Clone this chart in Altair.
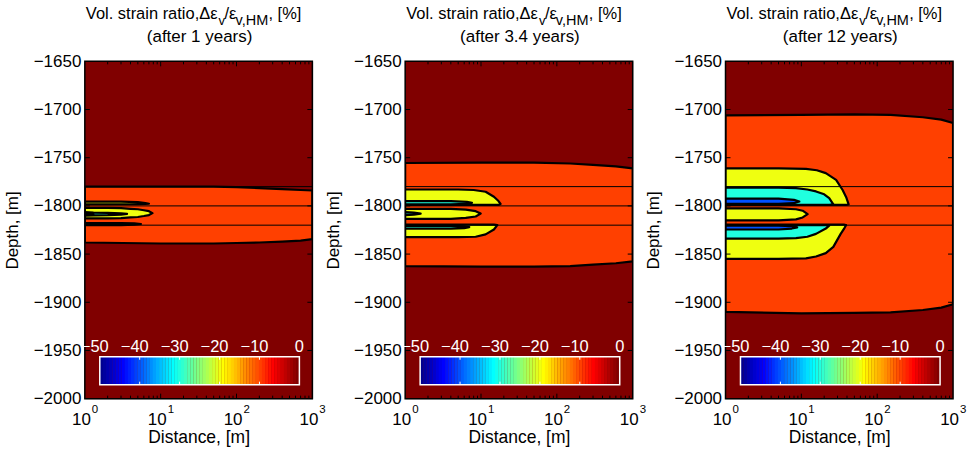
import math
import altair as alt
import numpy as np
import pandas as pd

# ---------------- data ----------------
YEARS = ["1", "3.4", "12"]
DEPTH_TICKS = [-2000, -1950, -1900, -1850, -1800, -1750, -1700, -1650]
X_MAJOR = [1, 10, 100, 1000]
X_EXP = ["0", "1", "2", "3"]
X_MINOR = [2, 3, 4, 5, 6, 7, 8, 9, 20, 30, 40, 50, 60, 70, 80, 90,
           200, 300, 400, 500, 600, 700, 800, 900]
LAYER_LINES = [-1780, -1800, -1820]
CB_TICKS = [-50, -40, -30, -20, -10, 0]
CB_LABELS = ["\u221250", "\u221240", "\u221230", "\u221220", "\u221210", "0"]
LEVELS = [-10, -20, -30, -40]

# panel 1 (after 1 year)
P1_ORANGE_X = [1, 10, 50, 100, 200, 400, 700, 1000]
P1_ORANGE_TOP = [-1780, -1780, -1780, -1780.5, -1781.5, -1782.5, -1783.5, -1784]
P1_ORANGE_BOT = [-1838, -1839, -1839, -1838.5, -1838, -1837, -1836, -1834.5]
P1_YEL_A_X = [1, 3, 5, 6.3, 7.0]
P1_YEL_A_TOP = [-1795.5, -1795.5, -1796, -1797, -1797.8]
P1_YEL_A_BOT = [-1798.3, -1798.3, -1798.3, -1798, -1797.8]
P1_YEL_B_X = [1, 2, 3, 4, 5, 6, 7, 7.8]
P1_YEL_B_TOP = [-1802, -1802, -1802.3, -1803, -1803.5, -1804.5, -1805.5, -1807.5]
P1_YEL_B_BOT = [-1813, -1813, -1812.7, -1812, -1811.5, -1810.5, -1809.5, -1807.5]
P1_YEL_C_X = [1, 3, 4.5, 5.5]
P1_YEL_C_TOP = [-1817.8, -1817.8, -1818.2, -1818.8]
P1_YEL_C_BOT = [-1820, -1820, -1819.5, -1818.8]
P1_CYAN_X = [1, 1.3, 2, 3, 3.6]
P1_CYAN_TOP = [-1806.5, -1807, -1807.3, -1807.8, -1808.3]
P1_CYAN_BOT = [-1810, -1809.8, -1809.6, -1809, -1808.3]
P1_BLUE_X = [1, 1.15, 1.3]
P1_BLUE_TOP = [-1807.5, -1808, -1808.5]
P1_BLUE_BOT = [-1809.5, -1809, -1808.5]

# panel 2 (after 3.4 years)
P2_ORANGE_X = [1, 10, 50, 150, 300, 600, 1000]
P2_ORANGE_TOP = [-1755.5, -1755, -1755, -1756, -1757.5, -1759, -1761]
P2_ORANGE_BOT = [-1862.5, -1863, -1863, -1862.5, -1861, -1859.5, -1857.5]
P2_YEL_A_X = [1, 5, 8, 11.5, 14.8, 17, 18.1]
P2_YEL_A_TOP = [-1783, -1783, -1783.5, -1785.3, -1790.5, -1795, -1798]
P2_YEL_A_BOT = [-1799, -1799, -1799, -1799, -1799, -1799, -1798]
P2_YEL_B_X = [1, 4, 6.3, 8.5, 9.9]
P2_YEL_B_TOP = [-1803, -1803, -1803.8, -1805.5, -1808]
P2_YEL_B_BOT = [-1813.5, -1813.5, -1812.5, -1811, -1808]
P2_YEL_C_X = [1, 5, 8.5, 11.5, 14.8, 16.4]
P2_YEL_C_TOP = [-1819.5, -1819.5, -1819.5, -1819.5, -1819.5, -1820]
P2_YEL_C_BOT = [-1832.5, -1832.5, -1832, -1829.5, -1824.5, -1820]
P2_CYAN_A_X = [1, 4, 6.5, 7.6]
P2_CYAN_A_TOP = [-1795, -1795, -1795.8, -1796.8]
P2_CYAN_A_BOT = [-1798.5, -1798.5, -1797.8, -1796.8]
P2_CYAN_B_X = [1, 1.3, 1.6]
P2_CYAN_B_TOP = [-1806.5, -1807, -1808]
P2_CYAN_B_BOT = [-1809.5, -1809, -1808]
P2_CYAN_C_X = [1, 4, 6, 7]
P2_CYAN_C_TOP = [-1820.8, -1820.8, -1821.2, -1822]
P2_CYAN_C_BOT = [-1823.5, -1823.5, -1823, -1822]

# panel 3 (after 12 years)
P3_ORANGE_X = [1, 10, 50, 150, 400, 700, 1000]
P3_ORANGE_TOP = [-1706, -1705.5, -1705, -1705.5, -1708, -1710.5, -1714]
P3_ORANGE_BOT = [-1910, -1911.5, -1911, -1910.5, -1908, -1905.5, -1902]
P3_YEL_A_X = [1, 5, 11.5, 16, 21, 28.7, 35, 39, 42]
P3_YEL_A_TOP = [-1761, -1761, -1761.5, -1763, -1766, -1773, -1783.5, -1791, -1798.5]
P3_YEL_A_BOT = [-1799, -1799, -1799, -1799, -1799, -1799, -1799, -1799, -1798.5]
P3_YEL_B_X = [1, 5, 8.5, 10.4, 12.1]
P3_YEL_B_TOP = [-1802.5, -1802.5, -1803.5, -1805, -1808.5]
P3_YEL_B_BOT = [-1815, -1815, -1814, -1812, -1808.5]
P3_YEL_C_X = [1, 5, 11.5, 15.6, 21, 26.4, 33, 37, 38.8]
P3_YEL_C_TOP = [-1819.5, -1819.5, -1819.5, -1819.5, -1819.5, -1819.5, -1819.5, -1819.5, -1820]
P3_YEL_C_BOT = [-1855, -1855, -1854.5, -1852.5, -1849, -1842.5, -1829, -1823, -1820]
P3_CYAN_A_X = [1, 5, 8.5, 12, 15.6, 20, 23.3, 26.4]
P3_CYAN_A_TOP = [-1781, -1781, -1781.5, -1783, -1785, -1788, -1792, -1798.5]
P3_CYAN_A_BOT = [-1799, -1799, -1799, -1799, -1799, -1799, -1799, -1798.5]
P3_CYAN_C_X = [1, 5, 8.5, 12, 15.6, 21, 23.3]
P3_CYAN_C_TOP = [-1820, -1820, -1820, -1820, -1820, -1820, -1820.5]
P3_CYAN_C_BOT = [-1834, -1834, -1833.5, -1832, -1829, -1823.5, -1820.5]
P3_BLUE_A_X = [1, 5, 8, 9.4]
P3_BLUE_A_TOP = [-1792.3, -1792.5, -1793.8, -1795.5]
P3_BLUE_A_BOT = [-1797.8, -1797.8, -1797.2, -1795.5]
P3_BLUE_C_X = [1, 5, 7.5, 8.8]
P3_BLUE_C_TOP = [-1820.5, -1820.5, -1821, -1822.3]
P3_BLUE_C_BOT = [-1824.5, -1824.5, -1823.5, -1822.3]

PANELS = [
    [(-10, P1_ORANGE_X, P1_ORANGE_TOP, P1_ORANGE_BOT),
     (-20, P1_YEL_A_X, P1_YEL_A_TOP, P1_YEL_A_BOT),
     (-20, P1_YEL_B_X, P1_YEL_B_TOP, P1_YEL_B_BOT),
     (-20, P1_YEL_C_X, P1_YEL_C_TOP, P1_YEL_C_BOT),
     (-30, P1_CYAN_X, P1_CYAN_TOP, P1_CYAN_BOT),
     (-40, P1_BLUE_X, P1_BLUE_TOP, P1_BLUE_BOT)],
    [(-10, P2_ORANGE_X, P2_ORANGE_TOP, P2_ORANGE_BOT),
     (-20, P2_YEL_A_X, P2_YEL_A_TOP, P2_YEL_A_BOT),
     (-20, P2_YEL_B_X, P2_YEL_B_TOP, P2_YEL_B_BOT),
     (-20, P2_YEL_C_X, P2_YEL_C_TOP, P2_YEL_C_BOT),
     (-30, P2_CYAN_A_X, P2_CYAN_A_TOP, P2_CYAN_A_BOT),
     (-30, P2_CYAN_B_X, P2_CYAN_B_TOP, P2_CYAN_B_BOT),
     (-30, P2_CYAN_C_X, P2_CYAN_C_TOP, P2_CYAN_C_BOT)],
    [(-10, P3_ORANGE_X, P3_ORANGE_TOP, P3_ORANGE_BOT),
     (-20, P3_YEL_A_X, P3_YEL_A_TOP, P3_YEL_A_BOT),
     (-20, P3_YEL_B_X, P3_YEL_B_TOP, P3_YEL_B_BOT),
     (-20, P3_YEL_C_X, P3_YEL_C_TOP, P3_YEL_C_BOT),
     (-30, P3_CYAN_A_X, P3_CYAN_A_TOP, P3_CYAN_A_BOT),
     (-30, P3_CYAN_C_X, P3_CYAN_C_TOP, P3_CYAN_C_BOT),
     (-40, P3_BLUE_A_X, P3_BLUE_A_TOP, P3_BLUE_A_BOT),
     (-40, P3_BLUE_C_X, P3_BLUE_C_TOP, P3_BLUE_C_BOT)],
]


# ---------------- colormap (MATLAB jet(64)) ----------------
def jet(m=64):
    n = math.ceil(m / 4)
    u = np.concatenate([np.arange(1, n + 1) / n, np.ones(n - 1), np.arange(n, 0, -1) / n])
    g = math.ceil(n / 2) - (1 if m % 4 == 1 else 0) + np.arange(1, len(u) + 1)
    r = g + n
    b = g - n
    J = np.zeros((m, 3))
    J[r[r <= m] - 1, 0] = u[r <= m]
    J[g[g <= m] - 1, 1] = u[g <= m]
    J[b[b >= 1] - 1, 2] = u[b >= 1]
    return J


JET = jet(64)


def hexc(c):
    return "#%02x%02x%02x" % tuple(int(round(v * 255)) for v in c)


def level_color(v, vmin=-50.0, vmax=0.0):
    idx = int((v - vmin) / (vmax - vmin) * 64)
    idx = max(0, min(63, idx))
    return hexc(JET[idx])


LEVEL_COLOR = {lv: level_color(lv) for lv in LEVELS}
BG_COLOR = level_color(0)

# ---------------- layout ----------------
W, H = 228, 338
FONT = "Liberation Sans"
CB_L, CB_R, CB_T, CB_B = 15, 215, 296, 324

xs = alt.Scale(type="log", domain=[1, 1000], nice=False)
ys = alt.Scale(domain=[-2000, -1650], nice=False, zero=False)
X_AXIS = alt.Axis(labels=False, ticks=False, domain=False, grid=False,
                  title="Distance, [m]", titleFontSize=17.5, titleFontWeight="normal",
                  titleColor="black", titleY=44, titleBaseline="alphabetic", titleFont=FONT)
Y_AXIS = alt.Axis(values=DEPTH_TICKS, format="d", ticks=False, domain=False, grid=False,
                  labelFontSize=17, labelColor="black", labelPadding=4, labelFont=FONT,
                  title="Depth, [m]", titleFontSize=17, titleFontWeight="normal",
                  titleColor="black", titleX=-72, titleBaseline="middle", titleFont=FONT)
ONE = pd.DataFrame({"k": [0]})

cb_step = 50 / 64
cb_df = pd.DataFrame({
    "v0": [-50 + i * cb_step for i in range(64)],
    "v1": [-50 + (i + 1) * cb_step + 0.05 for i in range(64)],
    "c": [hexc(JET[i]) for i in range(64)],
})
cbs = alt.Scale(domain=[-50, 0], range=[CB_L, CB_R])


def XF(f):
    return alt.X(f, scale=xs, axis=X_AXIS)


def YF(f):
    return alt.Y(f, scale=ys, axis=Y_AXIS)


def make_panel(p):
    rows = []
    for ri, (lv, X, T, B) in enumerate(PANELS[p]):
        for x, t, b in zip(X, T, B):
            rows.append({"region": ri, "level": lv, "x": x, "top": t, "bot": b})
    df = pd.DataFrame(rows)

    layers = []
    # background of the plot area (value 0 colour)
    layers.append(alt.Chart(ONE).mark_rect(color=BG_COLOR).encode(
        x=alt.value(0), x2=alt.value(W), y=alt.value(0), y2=alt.value(H)))

    for lv in LEVELS:
        sub = df[df.level == lv]
        if len(sub) == 0:
            continue
        layers.append(
            alt.Chart(sub).mark_area(
                orient="vertical", fill=LEVEL_COLOR[lv], stroke="black",
                strokeWidth=2.2, strokeJoin="round", clip=True
            ).encode(x=XF("x:Q"), y=YF("top:Q"), y2="bot:Q", detail="region:N")
        )

    # layer boundary lines
    lines_df = pd.DataFrame({"d": LAYER_LINES})
    layers.append(alt.Chart(lines_df).mark_rule(color="black", strokeWidth=1).encode(
        y=YF("d:Q"), x=alt.value(0), x2=alt.value(W)))

    # inward ticks
    yt = pd.DataFrame({"d": DEPTH_TICKS[1:-1]})
    layers.append(alt.Chart(yt).mark_rule(color="black", strokeWidth=1).encode(
        y=YF("d:Q"), x=alt.value(0), x2=alt.value(5)))
    layers.append(alt.Chart(yt).mark_rule(color="black", strokeWidth=1).encode(
        y=YF("d:Q"), x=alt.value(W - 5), x2=alt.value(W)))
    xt = pd.DataFrame({"v": X_MAJOR[1:-1]})
    xm = pd.DataFrame({"v": X_MINOR})
    for src, ln in ((xt, 5), (xm, 3)):
        layers.append(alt.Chart(src).mark_rule(color="black", strokeWidth=1).encode(
            x=XF("v:Q"), y=alt.value(H - ln), y2=alt.value(H)))
        layers.append(alt.Chart(src).mark_rule(color="black", strokeWidth=1).encode(
            x=XF("v:Q"), y=alt.value(0), y2=alt.value(ln)))

    # border
    layers.append(alt.Chart(ONE).mark_rect(fillOpacity=0, stroke="black", strokeWidth=1.5).encode(
        x=alt.value(0), x2=alt.value(W), y=alt.value(0), y2=alt.value(H)))

    # x tick labels 10^k
    xl = pd.DataFrame({"v": X_MAJOR, "e": X_EXP})
    layers.append(alt.Chart(xl).mark_text(align="right", baseline="alphabetic", dx=6,
                                          fontSize=17, font=FONT, color="black").encode(
        x=XF("v:Q"), y=alt.value(H + 26), text=alt.value("10")))
    layers.append(alt.Chart(xl).mark_text(align="left", baseline="alphabetic", dx=7,
                                          fontSize=11.5, font=FONT, color="black").encode(
        x=XF("v:Q"), y=alt.value(H + 14), text="e:N"))

    # title
    def txt(s, x, y, size, align="left"):
        return alt.Chart(ONE).mark_text(align=align, baseline="alphabetic", fontSize=size,
                                        font=FONT, color="black").encode(
            x=alt.value(x), y=alt.value(y), text=alt.value(s))

    layers += [
        txt("Vol. strain ratio,\u0394\u03b5", 133, -42, 16.5, "right"),
        txt("v", 134, -36, 13),
        txt("/\u03b5", 140, -42, 16.5),
        txt("v,HM", 151, -36, 14.5),
        txt(", [%]", 184, -42, 16.5),
        txt(f"(after {YEARS[p]} years)", W / 2 + 1, -19, 17, "center"),
    ]

    main = alt.layer(*layers)

    # colorbar
    cbl = pd.DataFrame({"v": CB_TICKS, "lab": CB_LABELS})
    inner = cbl[(cbl.v > -50) & (cbl.v < 0)]
    CBX = lambda f: alt.X(f, scale=cbs, axis=None)
    cb_layers = [
        alt.Chart(cb_df).mark_rect(strokeWidth=0).encode(
            x=CBX("v0:Q"), x2="v1:Q",
            y=alt.value(CB_T), y2=alt.value(CB_B),
            color=alt.Color("c:N", scale=None)),
        alt.Chart(inner).mark_rule(color="white", strokeWidth=1).encode(
            x=CBX("v:Q"), y=alt.value(CB_T), y2=alt.value(CB_T + 3)),
        alt.Chart(inner).mark_rule(color="white", strokeWidth=1).encode(
            x=CBX("v:Q"), y=alt.value(CB_B - 3), y2=alt.value(CB_B)),
        alt.Chart(ONE).mark_rect(fillOpacity=0, stroke="white", strokeWidth=1.5).encode(
            x=alt.value(CB_L), x2=alt.value(CB_R), y=alt.value(CB_T), y2=alt.value(CB_B)),
        alt.Chart(cbl[cbl.v < 0]).mark_text(align="center", baseline="alphabetic", dx=-5,
                                             fontSize=16.5, font=FONT, color="white").encode(
            x=CBX("v:Q"), y=alt.value(CB_T - 5), text="lab:N"),
        alt.Chart(cbl[cbl.v == 0]).mark_text(align="center", baseline="alphabetic",
                                              fontSize=16.5, font=FONT, color="white").encode(
            x=CBX("v:Q"), y=alt.value(CB_T - 5), text="lab:N"),
    ]
    cb = alt.layer(*cb_layers)

    return alt.layer(main, cb).resolve_scale(x="independent").properties(width=W, height=H)


chart = alt.hconcat(
    make_panel(0), make_panel(1), make_panel(2), spacing=93, bounds="flush"
).properties(
    padding={"left": 3, "top": 5, "right": 5, "bottom": 3},
    background="white",
).configure_view(stroke=None).configure(font=FONT)

chart.save("out.html", embed_options={"renderer": "svg", "actions": False})
